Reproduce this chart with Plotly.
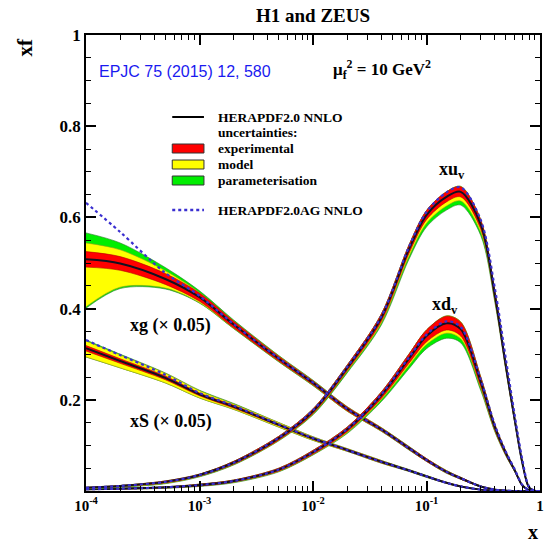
import plotly.graph_objects as go

# ---------------- data ----------------
x_grid = [1e-4, 2e-4, 5e-4, 1e-3, 2e-3, 5e-3, 0.01, 0.02, 0.04, 0.07, 0.1,
          0.15, 0.2, 0.3, 0.4, 0.5, 0.6, 0.7, 0.8, 0.9, 1.0]

# xu_v
xuv_c = [0.007, 0.011, 0.020, 0.035, 0.062, 0.116, 0.175, 0.27, 0.38, 0.53, 0.605,
         0.645, 0.656, 0.585, 0.43, 0.275, 0.155, 0.061, 0.008, 0.0005, 0.0]
xuv_exp = [0.001, 0.001, 0.002, 0.002, 0.003, 0.004, 0.005, 0.006, 0.008, 0.009, 0.010,
           0.011, 0.011, 0.010, 0.008, 0.006, 0.004, 0.002, 0.001, 0.0, 0.0]
xuv_mod_up = [0.001, 0.001, 0.002, 0.002, 0.003, 0.004, 0.005, 0.006, 0.008, 0.009, 0.010,
              0.011, 0.012, 0.010, 0.008, 0.006, 0.004, 0.002, 0.001, 0.0, 0.0]
xuv_mod_dn = [0.002, 0.002, 0.003, 0.003, 0.004, 0.005, 0.006, 0.008, 0.012, 0.016, 0.018,
              0.020, 0.020, 0.017, 0.012, 0.008, 0.005, 0.003, 0.001, 0.0, 0.0]
xuv_tot_up = [0.001, 0.001, 0.002, 0.002, 0.003, 0.004, 0.005, 0.006, 0.008, 0.009, 0.010,
              0.011, 0.012, 0.010, 0.008, 0.006, 0.004, 0.002, 0.001, 0.0, 0.0]
xuv_tot_dn = [0.003, 0.003, 0.004, 0.004, 0.005, 0.006, 0.008, 0.011, 0.016, 0.022, 0.026,
              0.029, 0.029, 0.024, 0.016, 0.010, 0.006, 0.003, 0.001, 0.0, 0.0]
xuv_ag = [0.007, 0.011, 0.020, 0.035, 0.062, 0.117, 0.177, 0.272, 0.383, 0.535, 0.612,
          0.655, 0.666, 0.595, 0.445, 0.29, 0.165, 0.068, 0.010, 0.0006, 0.0]

# xd_v
xdv_c = [0.004, 0.005, 0.008, 0.013, 0.022, 0.047, 0.085, 0.135, 0.21, 0.29, 0.34,
         0.368, 0.355, 0.24, 0.14, 0.083, 0.045, 0.012, 0.002, 0.0, 0.0]
xdv_exp = [0.001, 0.001, 0.001, 0.002, 0.002, 0.003, 0.004, 0.005, 0.007, 0.010, 0.013,
           0.015, 0.015, 0.010, 0.006, 0.004, 0.002, 0.001, 0.0, 0.0, 0.0]
xdv_mod_up = [0.001, 0.001, 0.001, 0.002, 0.002, 0.003, 0.004, 0.005, 0.007, 0.010, 0.013,
              0.016, 0.016, 0.011, 0.006, 0.004, 0.002, 0.001, 0.0, 0.0, 0.0]
xdv_mod_dn = [0.001, 0.001, 0.002, 0.002, 0.003, 0.004, 0.005, 0.007, 0.010, 0.015, 0.019,
              0.022, 0.021, 0.014, 0.008, 0.005, 0.003, 0.001, 0.0, 0.0, 0.0]
xdv_tot_up = [0.001, 0.001, 0.001, 0.002, 0.002, 0.003, 0.004, 0.005, 0.007, 0.010, 0.013,
              0.016, 0.016, 0.011, 0.006, 0.004, 0.002, 0.001, 0.0, 0.0, 0.0]
xdv_tot_dn = [0.001, 0.001, 0.002, 0.003, 0.004, 0.005, 0.006, 0.009, 0.014, 0.022, 0.028,
              0.033, 0.030, 0.019, 0.010, 0.006, 0.003, 0.001, 0.0, 0.0, 0.0]
xdv_ag = [0.004, 0.005, 0.008, 0.013, 0.022, 0.047, 0.085, 0.136, 0.212, 0.293, 0.343,
          0.372, 0.36, 0.245, 0.145, 0.086, 0.047, 0.013, 0.002, 0.0, 0.0]

# xg (x 0.05)
xg_c = [0.508, 0.499, 0.465, 0.425, 0.365, 0.290, 0.237, 0.180, 0.135, 0.094, 0.068,
        0.042, 0.028, 0.010, 0.003, 0.001, 0.0, 0.0, 0.0, 0.0, 0.0]
xg_exp = [0.017, 0.015, 0.012, 0.009, 0.007, 0.005, 0.004, 0.004, 0.003, 0.003, 0.003,
          0.002, 0.002, 0.001, 0.001, 0.0, 0.0, 0.0, 0.0, 0.0, 0.0]
xg_mod_up = [0.036, 0.030, 0.018, 0.010, 0.008, 0.006, 0.005, 0.005, 0.004, 0.003, 0.003,
             0.003, 0.002, 0.001, 0.001, 0.0, 0.0, 0.0, 0.0, 0.0, 0.0]
xg_mod_dn = [0.104, 0.052, 0.020, 0.012, 0.008, 0.006, 0.005, 0.005, 0.004, 0.003, 0.003,
             0.003, 0.002, 0.001, 0.001, 0.0, 0.0, 0.0, 0.0, 0.0, 0.0]
xg_tot_up = [0.058, 0.045, 0.025, 0.014, 0.010, 0.007, 0.006, 0.005, 0.004, 0.004, 0.003,
             0.003, 0.002, 0.001, 0.001, 0.0, 0.0, 0.0, 0.0, 0.0, 0.0]
xg_tot_dn = [0.107, 0.055, 0.022, 0.013, 0.009, 0.007, 0.006, 0.005, 0.004, 0.004, 0.003,
             0.003, 0.002, 0.001, 0.001, 0.0, 0.0, 0.0, 0.0, 0.0, 0.0]
xg_ag = [0.632, 0.568, 0.478, 0.428, 0.366, 0.291, 0.238, 0.180, 0.135, 0.094, 0.068,
         0.042, 0.028, 0.010, 0.003, 0.001, 0.0, 0.0, 0.0, 0.0, 0.0]

# xS (x 0.05)
xs_c = [0.313, 0.285, 0.248, 0.212, 0.185, 0.145, 0.115, 0.090, 0.064, 0.045, 0.032,
        0.018, 0.010, 0.003, 0.001, 0.0, 0.0, 0.0, 0.0, 0.0, 0.0]
xs_exp = [0.006, 0.005, 0.004, 0.003, 0.003, 0.002, 0.002, 0.002, 0.002, 0.001, 0.001,
          0.001, 0.001, 0.0, 0.0, 0.0, 0.0, 0.0, 0.0, 0.0, 0.0]
xs_mod_up = [0.016, 0.013, 0.010, 0.008, 0.006, 0.005, 0.004, 0.003, 0.003, 0.002, 0.002,
             0.001, 0.001, 0.0, 0.0, 0.0, 0.0, 0.0, 0.0, 0.0, 0.0]
xs_mod_dn = [0.019, 0.015, 0.011, 0.008, 0.006, 0.005, 0.004, 0.003, 0.003, 0.002, 0.002,
             0.001, 0.001, 0.0, 0.0, 0.0, 0.0, 0.0, 0.0, 0.0, 0.0]
xs_tot_up = [0.018, 0.015, 0.011, 0.009, 0.007, 0.005, 0.004, 0.003, 0.003, 0.002, 0.002,
             0.001, 0.001, 0.0, 0.0, 0.0, 0.0, 0.0, 0.0, 0.0, 0.0]
xs_tot_dn = [0.019, 0.015, 0.011, 0.008, 0.006, 0.005, 0.004, 0.003, 0.003, 0.002, 0.002,
             0.001, 0.001, 0.0, 0.0, 0.0, 0.0, 0.0, 0.0, 0.0, 0.0]
xs_ag = [0.331, 0.298, 0.255, 0.215, 0.187, 0.146, 0.116, 0.090, 0.064, 0.045, 0.032,
         0.018, 0.010, 0.003, 0.001, 0.0, 0.0, 0.0, 0.0, 0.0, 0.0]

x_tickvals = [1e-4, 1e-3, 1e-2, 1e-1, 1]
x_ticktext = ["10<sup>-4</sup>", "10<sup>-3</sup>", "10<sup>-2</sup>", "10<sup>-1</sup>", "1"]
y_tickvals = [0.2, 0.4, 0.6, 0.8, 1.0]
y_ticktext = ["0.2", "0.4", "0.6", "0.8", "1"]

# ---------------- styling ----------------
RED, YEL, GRN = "#ff0000", "#ffff00", "#00ee00"
AG_COL = "#3a2fd0"
SERIF = "Liberation Serif"

W, H = 546, 547
L, R, T, B = 86, 2, 35, 56
PW, PH = W - L - R, H - T - B


def px(xp):
    return (xp - L) / PW


def py(yp):
    return (H - B - yp) / PH


fig = go.Figure()


def band(lo_off, hi_off, c, color, outline):
    lo = [ci - d for ci, d in zip(c, lo_off)]
    hi = [ci + d for ci, d in zip(c, hi_off)]
    fig.add_trace(go.Scatter(
        x=x_grid + x_grid[::-1], y=hi + lo[::-1], fill="toself",
        fillcolor=color, mode="lines",
        line=dict(color=outline, width=0.6, shape="spline", smoothing=0.9),
        hoverinfo="skip", showlegend=False))


pdfs = [
    (xg_c, xg_exp, xg_mod_up, xg_mod_dn, xg_tot_up, xg_tot_dn),
    (xs_c, xs_exp, xs_mod_up, xs_mod_dn, xs_tot_up, xs_tot_dn),
    (xdv_c, xdv_exp, xdv_mod_up, xdv_mod_dn, xdv_tot_up, xdv_tot_dn),
    (xuv_c, xuv_exp, xuv_mod_up, xuv_mod_dn, xuv_tot_up, xuv_tot_dn),
]

for c, e, mu, md, tu, td in pdfs:
    band(td, tu, c, GRN, "#2a7a2a")
    band(md, mu, c, YEL, "#9a9a20")
    band(e, e, c, RED, "#b00000")
    fig.add_trace(go.Scatter(x=x_grid, y=c, mode="lines",
                             line=dict(color="#111122", width=2, shape="spline", smoothing=0.9),
                             hoverinfo="skip", showlegend=False))

for ag in [xg_ag, xs_ag, xdv_ag, xuv_ag]:
    fig.add_trace(go.Scatter(x=x_grid, y=ag, mode="lines",
                             line=dict(color=AG_COL, width=2.2, dash="dot", shape="spline", smoothing=0.9),
                             hoverinfo="skip", showlegend=False))

axis_common = dict(showline=True, linecolor="black", linewidth=1.5, mirror="allticks",
                   ticks="inside", ticklen=10, tickwidth=1.5, tickcolor="black",
                   showgrid=False, zeroline=False)

fig.update_xaxes(type="log", range=[-4, 0], tickvals=x_tickvals, ticktext=x_ticktext,
                 tickfont=dict(family=SERIF, size=15, color="black", weight="bold"),
                 minor=dict(ticks="inside", ticklen=5, tickwidth=1.2, tickcolor="black", dtick="D1",
                            showgrid=False),
                 **axis_common)
fig.update_yaxes(range=[0, 1], tickvals=y_tickvals, ticktext=y_ticktext,
                 tickfont=dict(family=SERIF, size=17, color="black", weight="bold"),
                 minor=dict(ticks="inside", ticklen=5, tickwidth=1.2, tickcolor="black", dtick=0.05, tick0=0,
                            showgrid=False),
                 **axis_common)

ann = []


def text(xp, yp, s, size=15, color="black", family=SERIF, weight="bold", xanchor="center", angle=0):
    ann.append(dict(x=px(xp), y=py(yp), xref="paper", yref="paper", text=s, showarrow=False,
                    xanchor=xanchor, yanchor="middle", textangle=angle,
                    font=dict(family=family, size=size, color=color, weight=weight)))


text(315, 16, "H1 and ZEUS", size=19)
text(24, 47, "xf", size=21, angle=-90)
text(537, 532, "x", size=20)
text(186, 72, "EPJC 75 (2015) 12, 580", size=16, color="#1a1af0",
     family="Liberation Sans", weight="normal")
text(333, 70, "μ<sub>f</sub><sup>2</sup> = 10 GeV<sup>2</sup>", size=17, xanchor="left")
text(455, 170, "xu<sub>v</sub>", size=18)
text(448, 305, "xd<sub>v</sub>", size=18)
text(128, 326, "xg (× 0.05)", size=18, xanchor="left")
text(128, 421, "xS (× 0.05)", size=18, xanchor="left")

# legend
leg_x0, leg_x1, leg_tx = 173, 205, 217
LF = 13.5
text(leg_tx, 117, "HERAPDF2.0 NNLO", size=LF, xanchor="left")
text(leg_tx, 132, "uncertainties:", size=LF, xanchor="left")
text(leg_tx, 148, "experimental", size=LF, xanchor="left")
text(leg_tx, 164, "model", size=LF, xanchor="left")
text(leg_tx, 180, "parameterisation", size=LF, xanchor="left")
text(leg_tx, 210, "HERAPDF2.0AG NNLO", size=LF, xanchor="left")

shapes = [
    dict(type="line", xref="paper", yref="paper", x0=px(leg_x0), x1=px(leg_x1), y0=py(117), y1=py(117),
         line=dict(color="black", width=2)),
    dict(type="rect", xref="paper", yref="paper", x0=px(leg_x0), x1=px(leg_x1), y0=py(153), y1=py(144),
         fillcolor=RED, line=dict(color="#333333", width=1)),
    dict(type="rect", xref="paper", yref="paper", x0=px(leg_x0), x1=px(leg_x1), y0=py(169), y1=py(160),
         fillcolor=YEL, line=dict(color="#333333", width=1)),
    dict(type="rect", xref="paper", yref="paper", x0=px(leg_x0), x1=px(leg_x1), y0=py(185), y1=py(176),
         fillcolor=GRN, line=dict(color="#333333", width=1)),
    dict(type="line", xref="paper", yref="paper", x0=px(leg_x0), x1=px(leg_x1), y0=py(210), y1=py(210),
         line=dict(color=AG_COL, width=2.5, dash="dot")),
]

fig.update_layout(width=W, height=H, margin=dict(l=L, r=R, t=T, b=B),
                  paper_bgcolor="white", plot_bgcolor="white",
                  annotations=ann, shapes=shapes, showlegend=False)

fig.write_html("out.html", config={"displayModeBar": False},
               post_script="document.documentElement.style.margin='0';"
                           "document.body.style.margin='0';document.body.style.padding='0';"
                           "document.body.style.overflow='hidden';")
